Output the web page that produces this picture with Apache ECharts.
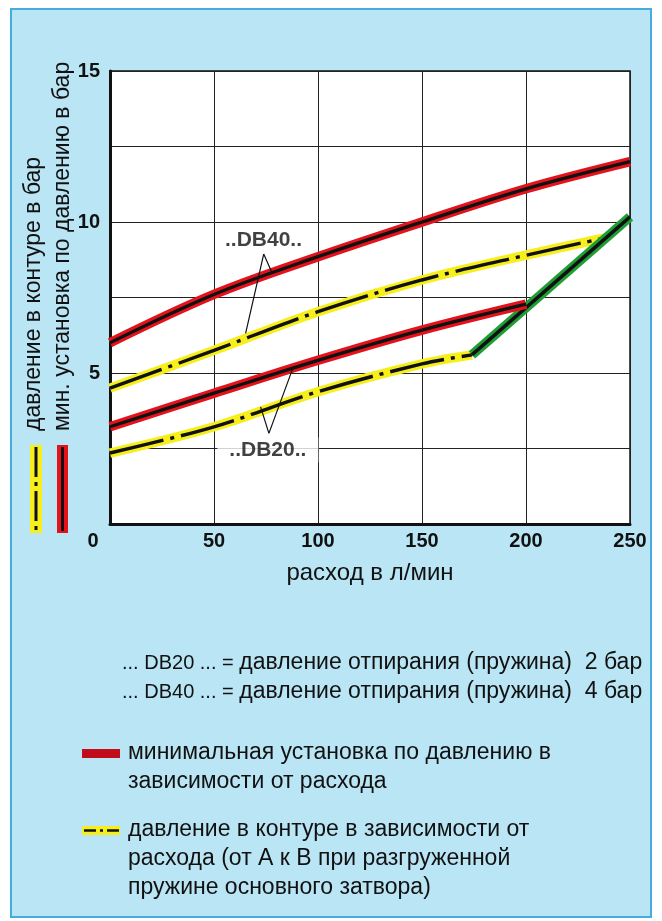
<!DOCTYPE html>
<html><head><meta charset="utf-8">
<script src="https://cdn.jsdelivr.net/npm/echarts@6/dist/echarts.min.js"></script>
<style>html,body{margin:0;padding:0;background:#fff}#c{width:662px;height:921px}</style>
</head><body><div id="c"></div>
<script>
// ---- data ----
const xTicks = [0, 50, 100, 150, 200, 250];
const yTicksLabeled = [0, 5, 10, 15];

const db40MinFlow = [0, 50, 100, 150, 200, 250];
const db40MinVal  = [6.0, 7.6, 8.85, 10.0, 11.1, 12.0];

const db40CircFlow = [0, 50, 100, 150, 200, 238];
const db40CircVal  = [4.5, 5.75, 7.03, 8.08, 8.9, 9.47];

const db20MinFlow = [0, 50, 100, 150, 200];
const db20MinVal  = [3.22, 4.33, 5.42, 6.42, 7.28];

const db20CircFlow = [0, 50, 100, 150, 174];
const db20CircVal  = [2.35, 3.22, 4.38, 5.3, 5.6];

const greenFlow = [174, 250];
const greenVal  = [5.6, 10.17];

const db40LeaderFlow = [65.2, 73.9, 78.0];
const db40LeaderVal  = [6.31, 8.94, 8.30];
const db20LeaderFlow = [72.4, 76.4, 87.7];
const db20LeaderVal  = [3.88, 3.00, 5.12];

const db40LabelPos = [73.8, 9.4];
const db20LabelPos = [75.9, 2.45];

const xTitle = 'расход в л/мин';
const yTitle1 = 'давление в контуре в бар';
const yTitle2 = 'мин. установка по давлению в бар';
const notePrefix = ['... DB20 ... = ', '... DB40 ... = '];
const noteText = ['давление отпирания (пружина)  2 бар', 'давление отпирания (пружина)  4 бар'];
const legendRed = ['минимальная установка по давлению в', 'зависимости от расхода'];
const legendYellow = ['давление в контуре в зависимости от', 'расхода (от А к В при разгруженной', 'пружине основного затвора)'];

// ---- build ----
const zip = (a, b) => a.map((v, i) => [v, b[i]]);
const RED = '#e3121b', YEL = '#f6ef1c', GRN = '#1f9e35', BLK = '#111';
const DASHDOT = [55, 7, 4, 7];
const FONT = 'Liberation Sans, Arial, sans-serif';

function pair(data, color, dashed, z) {
  return [
    {type: 'line', data, smooth: 0.35, symbol: 'none', silent: true, z: z,
     lineStyle: {color, width: 9.5, cap: 'butt', join: 'round'}},
    {type: 'line', data, smooth: 0.35, symbol: 'none', silent: true, z: z + 1,
     lineStyle: {color: BLK, width: 3.4, cap: 'butt', type: dashed ? DASHDOT : 'solid'}}
  ];
}

const series = [
  ...pair(zip(db20CircFlow, db20CircVal), YEL, true, 2),
  ...pair(zip(db40CircFlow, db40CircVal), YEL, true, 2),
  ...pair(zip(greenFlow, greenVal), GRN, false, 4),
  ...pair(zip(db20MinFlow, db20MinVal), RED, false, 6),
  ...pair(zip(db40MinFlow, db40MinVal), RED, false, 6),
  {type: 'line', data: zip(db40LeaderFlow, db40LeaderVal), symbol: 'none', silent: true, z: 10,
   lineStyle: {color: BLK, width: 1.2}},
  {type: 'line', data: zip(db20LeaderFlow, db20LeaderVal), symbol: 'none', silent: true, z: 10,
   lineStyle: {color: BLK, width: 1.2}},
  {type: 'scatter', data: [db40LabelPos], symbolSize: 1, itemStyle: {color: 'rgba(0,0,0,0)'}, z: 11,
   label: {show: true, position: 'inside', formatter: '..DB40..', fontFamily: FONT, fontSize: 21, fontWeight: 'bold', color: BLK}},
  {type: 'scatter', data: [db20LabelPos], symbolSize: 1, itemStyle: {color: 'rgba(0,0,0,0)'}, z: 11,
   label: {show: true, position: 'inside', formatter: '..DB20..', fontFamily: FONT, fontSize: 21, fontWeight: 'bold', color: BLK,
           backgroundColor: '#fff', padding: [2, 12, 2, 12]}}
];

const TS = 23;
const textStyle = {fontFamily: FONT, fontSize: TS, fill: '#111'};
const T = (x, y, text, extra) => ({type: 'text', x, y,
  style: Object.assign({}, textStyle, {text, textVerticalAlign: 'middle'}, extra || {})});
const noteRich = (i) => ({type: 'text', x: 122, y: 663 + i * 29,
  style: {text: '{p|' + notePrefix[i] + '}{t|' + noteText[i] + '}', textVerticalAlign: 'middle', fill: '#111',
    rich: {p: {fontFamily: FONT, fontSize: 20, fill: '#111'}, t: {fontFamily: FONT, fontSize: 23, fill: '#111'}}}});

const graphic = [
  {type: 'rect', z: -100, shape: {x: 11, y: 9, width: 640, height: 908},
   style: {fill: '#b9e5f5', stroke: '#45ace0', lineWidth: 2}},
  {type: 'text', x: 34, y: 431, rotation: Math.PI / 2,
   style: Object.assign({}, textStyle, {text: yTitle1, textAlign: 'left', textVerticalAlign: 'middle'})},
  {type: 'text', x: 63, y: 431, rotation: Math.PI / 2,
   style: Object.assign({}, textStyle, {text: yTitle2, textAlign: 'left', textVerticalAlign: 'middle'})},
  // left vertical swatches
  {type: 'rect', shape: {x: 30, y: 445, width: 12, height: 88}, style: {fill: YEL}},
  {type: 'line', shape: {x1: 36, y1: 447, x2: 36, y2: 531}, style: {stroke: BLK, lineWidth: 3, lineDash: [30, 5, 4, 5]}},
  {type: 'rect', shape: {x: 57, y: 445, width: 11, height: 88}, style: {fill: RED}},
  {type: 'line', shape: {x1: 62.5, y1: 447, x2: 62.5, y2: 531}, style: {stroke: BLK, lineWidth: 3}},
  // notes
  noteRich(0), noteRich(1),
  // red legend
  {type: 'rect', shape: {x: 82, y: 749, width: 38, height: 9}, style: {fill: '#c10d1a'}},
  T(128, 753, legendRed[0]), T(128, 782, legendRed[1]),
  // yellow legend
  {type: 'rect', shape: {x: 82, y: 826, width: 38, height: 9}, style: {fill: YEL}},
  {type: 'line', shape: {x1: 84, y1: 830.5, x2: 120, y2: 830.5}, style: {stroke: BLK, lineWidth: 2.5, lineDash: [12, 4, 3, 4]}},
  T(128, 830, legendYellow[0]), T(128, 859, legendYellow[1]), T(128, 888, legendYellow[2])
];

const chart = echarts.init(document.getElementById('c'), null, {renderer: 'canvas'});
chart.setOption({
  backgroundColor: '#fff',
  animation: false,
  grid: {left: 110, right: 32, top: 71, bottom: 397, show: true, backgroundColor: '#fff', borderColor: BLK, borderWidth: 1.5},
  xAxis: {
    type: 'value', min: xTicks[0], max: xTicks[xTicks.length - 1], interval: 50,
    name: xTitle, nameLocation: 'middle', nameGap: 37,
    nameTextStyle: {fontFamily: FONT, fontSize: 24, color: BLK},
    axisLine: {show: true, lineStyle: {color: BLK, width: 3}},
    axisTick: {show: false},
    splitLine: {show: true, lineStyle: {color: '#222', width: 1}},
    axisLabel: {margin: 7, fontFamily: FONT, fontSize: 20, fontWeight: 'bold', color: BLK,
      formatter: v => xTicks.includes(v) ? (v === 0 ? '{z|0}' : String(v)) : '',
      rich: {z: {fontFamily: FONT, fontSize: 20, fontWeight: 'bold', color: BLK, padding: [0, 34, 0, 0]}}}
  },
  yAxis: {
    type: 'value', min: 0, max: 15, interval: 2.5,
    axisLine: {show: true, lineStyle: {color: BLK, width: 3}},
    axisTick: {show: false},
    splitLine: {show: true, lineStyle: {color: '#222', width: 1}},
    axisLabel: {margin: 10, fontFamily: FONT, fontSize: 20, fontWeight: 'bold', color: BLK,
      formatter: v => (yTicksLabeled.includes(v) && v !== 0) ? String(v) : ''}
  },
  graphic,
  series
});
</script></body></html>
